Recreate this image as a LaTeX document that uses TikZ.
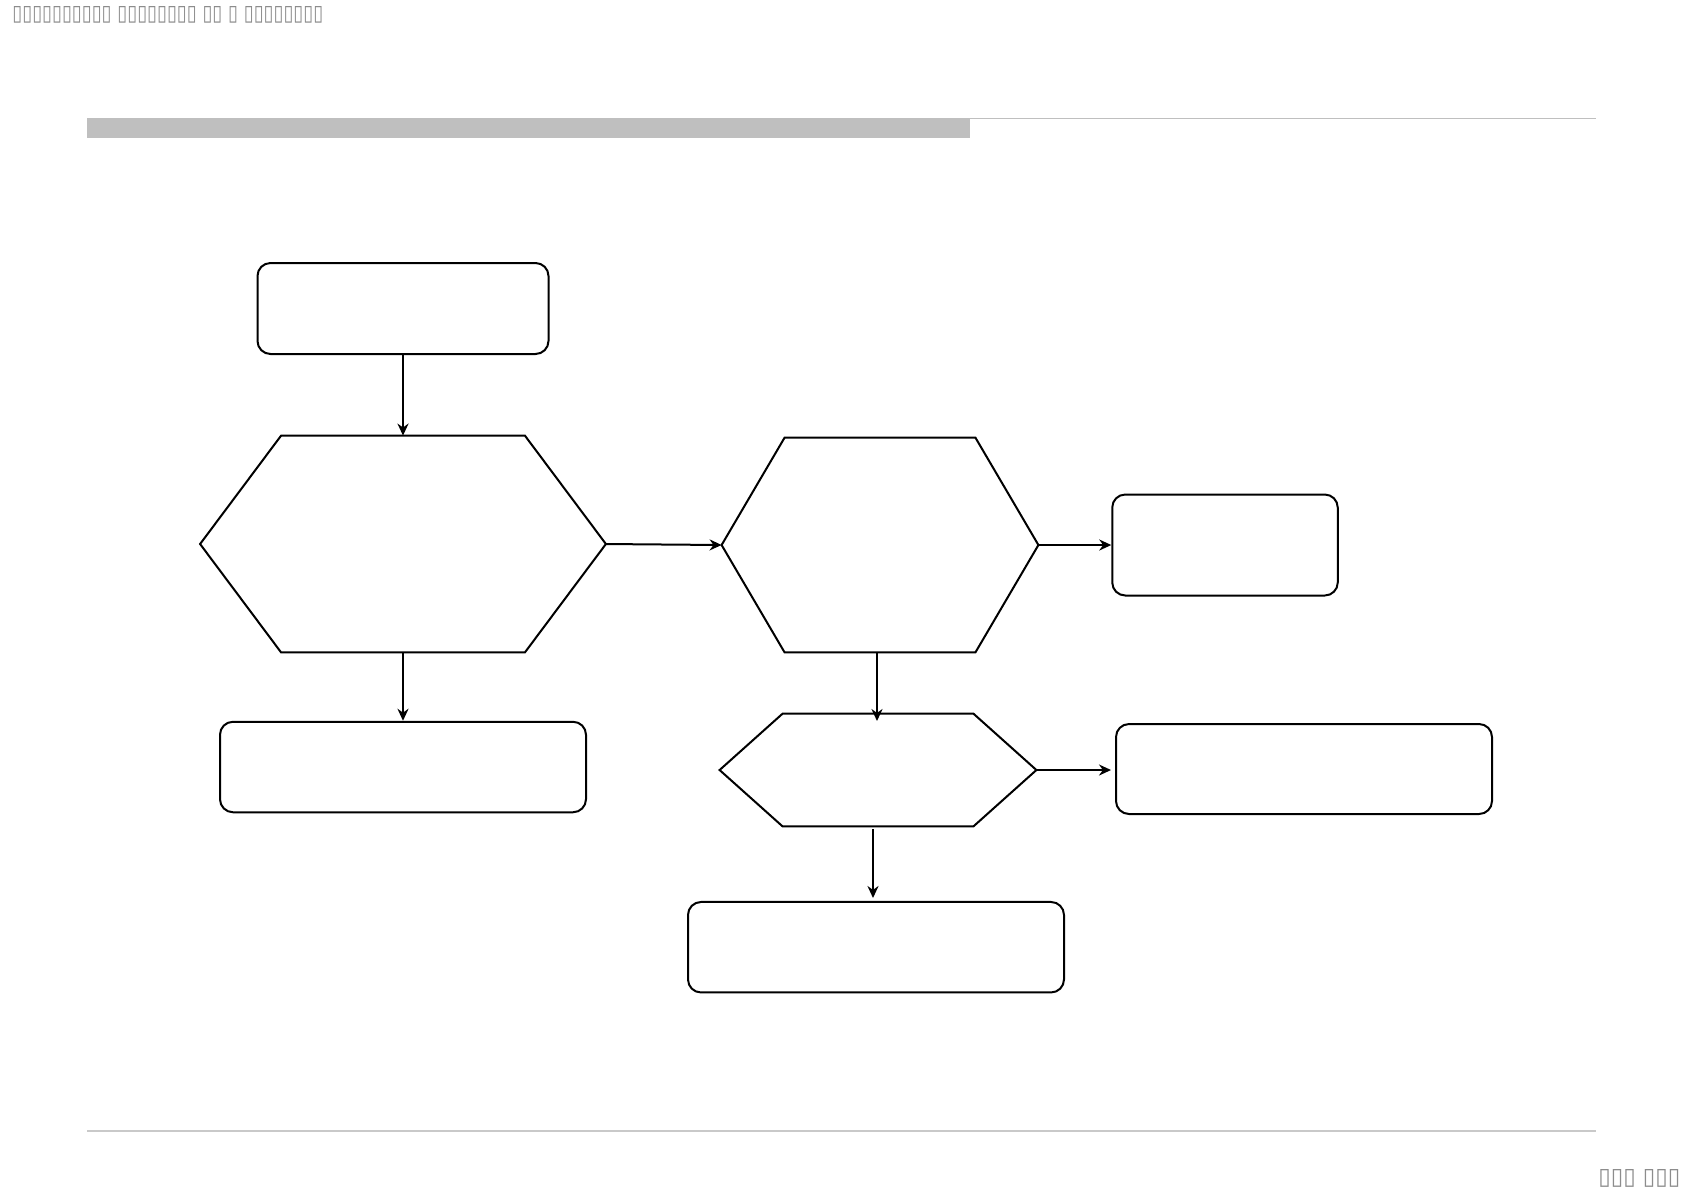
\documentclass[tikz,border=0pt]{standalone}
\usepackage{fontspec}
\usepackage{graphicx}
\usetikzlibrary{arrows.meta,calc}
\newfontfamily\dejavu{DejaVu Sans}
\definecolor{rulegray}{RGB}{191,191,191}
\definecolor{tofugray}{RGB}{140,140,140}
\tikzset{
  boxnode/.style={draw=black,line width=1pt,rounded corners=6.5pt,inner sep=0pt},
  hexframe/.style={draw=none,inner sep=0pt},
  hexline/.style={draw=black,line width=1pt,line join=miter},
  conn/.style={draw=black,line width=1pt,-{Stealth[length=6pt,width=5.5pt]}},
  tofu/.style={text=tofugray,inner sep=0pt,anchor=north west}
}
\begin{document}
\begin{tikzpicture}[x=0.5pt,y=-0.5pt]
\useasboundingbox (0,0) rectangle (1684,1191);
% header and footer
\fill[rulegray] (87,118) rectangle (970,137.5);
\draw[rulegray,line width=0.8pt] (970,118.5) -- (1596,118.5);
\draw[rulegray!85,line width=0.6pt] (87,1131) -- (1596,1131);
\node[tofu] (hdr) at (12,6) {\resizebox{155.5pt}{7pt}{\dejavu ▯▯▯▯▯▯▯▯▯▯ ▯▯▯▯▯▯▯▯ ▯▯ ▯ ▯▯▯▯▯▯▯▯}};
\node[tofu] (pg) at (1598,1169) {\resizebox{41pt}{7.5pt}{\dejavu ▯▯▯ ▯▯▯}};
% rounded boxes
\node[boxnode,minimum width=291pt/2,minimum height=91pt/2] (b1) at (403,308.5) {};
\node[boxnode,minimum width=366pt/2,minimum height=90.5pt/2] (b2) at (403,767) {};
\node[boxnode,minimum width=225.5pt/2,minimum height=101pt/2] (b3) at (1225,545) {};
\node[boxnode,minimum width=376pt/2,minimum height=90pt/2] (b4) at (1304,769) {};
\node[boxnode,minimum width=376pt/2,minimum height=90.5pt/2] (b5) at (876,947.2) {};
% hexagons (frames + outlines)
\node[hexframe,minimum width=405pt/2,minimum height=216pt/2] (h1) at (403,544) {};
\node[hexframe,minimum width=316pt/2,minimum height=214pt/2] (h2) at (880,545) {};
\node[hexframe,minimum width=316pt/2,minimum height=112pt/2] (h3) at (878,770) {};
\draw[hexline] (h1.west) -- ($(h1.north west)+(81,0)$) -- ($(h1.north east)+(-81,0)$) -- (h1.east)
  -- ($(h1.south east)+(-81,0)$) -- ($(h1.south west)+(81,0)$) -- cycle;
\draw[hexline] (h2.west) -- ($(h2.north west)+(63,0)$) -- ($(h2.north east)+(-63,0)$) -- (h2.east)
  -- ($(h2.south east)+(-63,0)$) -- ($(h2.south west)+(63,0)$) -- cycle;
\draw[hexline] (h3.west) -- ($(h3.north west)+(63,0)$) -- ($(h3.north east)+(-63,0)$) -- (h3.east)
  -- ($(h3.south east)+(-63,0)$) -- ($(h3.south west)+(63,0)$) -- cycle;
% connectors
\coordinate (c1) at (877,721);
\coordinate (c2) at (1111,770);
\coordinate (c3a) at (873,829);
\coordinate (c3b) at (873,898);
\draw[conn] (b1.south) -- (h1.north);
\draw[conn] (h1.south) -- (b2.north);
\draw[conn] (h1.east) -- (h2.west);
\draw[conn] (h2.east) -- (b3.west);
\draw[conn] (h2.south -| c1) -- (c1);
\draw[conn] (h3.east) -- (c2);
\draw[conn] (c3a) -- (c3b);
\end{tikzpicture}
\end{document}
